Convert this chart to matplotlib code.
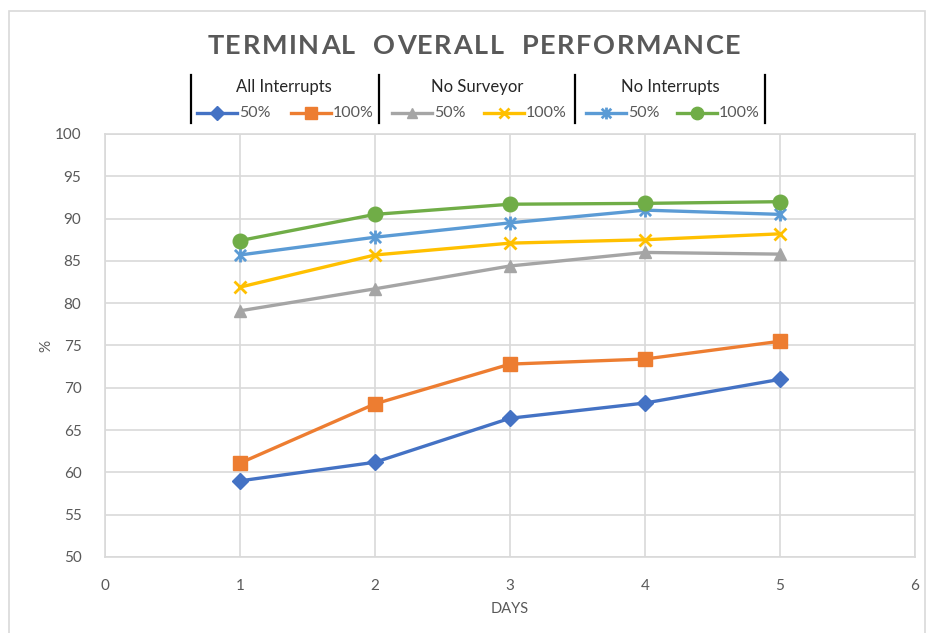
import matplotlib
matplotlib.use("Agg")
import matplotlib.pyplot as plt
from matplotlib.lines import Line2D
from matplotlib.patches import Rectangle
from matplotlib.path import Path

plt.rcParams['font.family'] = ['Lato', 'DejaVu Sans']

# ---- data -------------------------------------------------------------
days = [1, 2, 3, 4, 5]
all_int_50 = [59.0, 61.2, 66.4, 68.2, 71.0]
all_int_100 = [61.1, 68.1, 72.8, 73.4, 75.5]
no_surv_50 = [79.1, 81.7, 84.4, 86.0, 85.8]
no_surv_100 = [81.9, 85.7, 87.1, 87.5, 88.2]
no_int_50 = [85.7, 87.8, 89.5, 91.0, 90.5]
no_int_100 = [87.4, 90.5, 91.7, 91.8, 92.0]

groups = ["All Interrupts", "No Surveyor", "No Interrupts"]
level_labels = ["50%", "100%"]
x_ticks = [0, 1, 2, 3, 4, 5, 6]
y_ticks = [50, 55, 60, 65, 70, 75, 80, 85, 90, 95, 100]

W, H = 927, 633
TXT = "#595959"
GRID = "#d9d9d9"

# asterisk marker (x with a vertical stroke)
star = Path([(-0.5, -0.5), (0.5, 0.5), (-0.5, 0.5), (0.5, -0.5), (0, -0.62), (0, 0.62)],
            [Path.MOVETO, Path.LINETO, Path.MOVETO, Path.LINETO, Path.MOVETO, Path.LINETO])

series = [
    (all_int_50, "#4472C4", "D", 8),
    (all_int_100, "#ED7D31", "s", 9.5),
    (no_surv_50, "#A5A5A5", "^", 9),
    (no_surv_100, "#FFC000", "x", 9),
    (no_int_50, "#5B9BD5", star, 10),
    (no_int_100, "#70AD47", "o", 10.5),
]

fig = plt.figure(figsize=(W / 100, H / 100), dpi=100)

def fx(px):
    return px / W

def fy(py):
    return 1 - py / H

# outer chart border
fig.patches.append(Rectangle((fx(9), fy(645)), fx(925) - fx(9), fy(11) - fy(645),
                             transform=fig.transFigure, fill=False,
                             edgecolor=GRID, lw=1.2))

ax = fig.add_axes([fx(105), fy(557), fx(915) - fx(105), fy(134) - fy(557)])

handles = []
for vals, col, mk, ms in series:
    mew = 2 if mk in ("x",) or mk is star else 1
    h, = ax.plot(days, vals, color=col, lw=2.4, marker=mk, markersize=ms,
                 markerfacecolor=col, markeredgecolor=col, markeredgewidth=mew,
                 solid_capstyle='round')
    handles.append(h)

ax.set_xlim(0, 6)
ax.set_ylim(50, 100)
ax.set_xticks(x_ticks)
ax.set_yticks(y_ticks)
ax.grid(True, color=GRID, lw=1.2)
ax.set_axisbelow(True)
for s in ax.spines.values():
    s.set_color(GRID)
    s.set_linewidth(1.2)
ax.tick_params(length=0, colors=TXT, labelsize=11)
ax.tick_params(axis='y', pad=17)
ax.tick_params(axis='x', pad=16)
ax.set_xlabel("DAYS", color=TXT, fontsize=10.5, labelpad=6)
ax.set_ylabel("%", color=TXT, fontsize=11, labelpad=1)

# title with letter tracking
title = "TERMINAL  OVERALL  PERFORMANCE"
renderer = fig.canvas.get_renderer()
tracking = 1.6
chars = []
xpos = 0
for ch in title:
    t = fig.text(0, fy(46), ch, fontsize=19.5, fontweight='bold', color=TXT,
                 ha='left', va='center')
    w = t.get_window_extent(renderer).width
    chars.append((t, xpos))
    xpos += w + tracking
total = xpos - tracking
x0 = 474 - total / 2
for t, off in chars:
    t.set_x(fx(x0 + off))

# grouped legend
for bx in [191, 379, 575, 765]:
    fig.add_artist(Line2D([fx(bx), fx(bx)], [fy(75), fy(123)], color="black",
                          lw=1.6, transform=fig.transFigure))
for name, cx in zip(groups, [284, 477, 670]):
    fig.text(fx(cx), fy(87), name, fontsize=12, color="#262626",
             ha='center', va='center')
entry_x = [197, 291, 392, 484, 586, 677]
for i, (h, lx) in enumerate(zip(handles, entry_x)):
    y = fy(113)
    fig.add_artist(Line2D([fx(lx), fx(lx + 40)], [y, y], color=h.get_color(),
                          lw=2.4, transform=fig.transFigure))
    fig.add_artist(Line2D([fx(lx + 20)], [y], marker=h.get_marker(),
                          markersize=h.get_markersize() * 0.85,
                          color=h.get_color(), markeredgewidth=h.get_markeredgewidth(),
                          transform=fig.transFigure))
    fig.text(fx(lx + 42), y, level_labels[i % 2], fontsize=11.5, color=TXT,
             ha='left', va='center')

fig.savefig("out.png", dpi=100)
